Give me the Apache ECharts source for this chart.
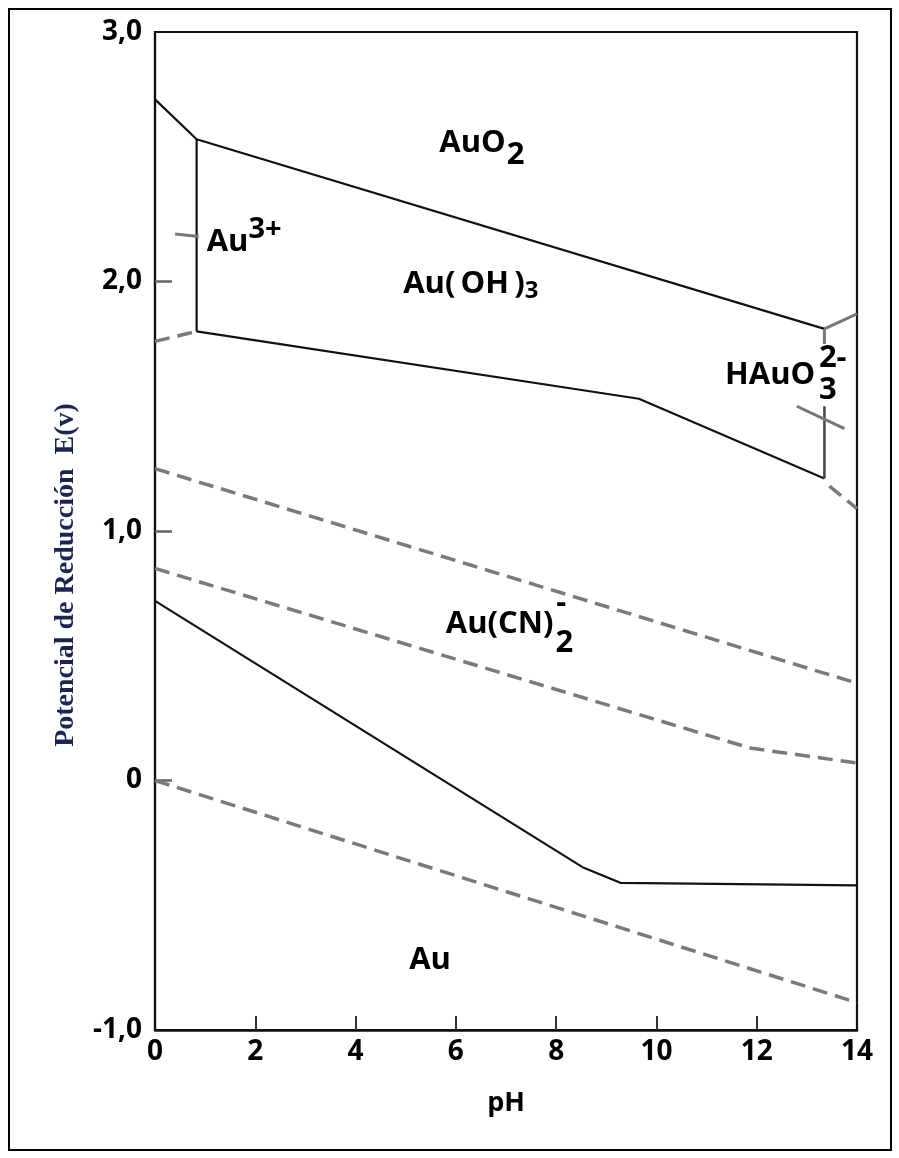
<!DOCTYPE html>
<html>
<head>
<meta charset="utf-8">
<script src="https://cdn.jsdelivr.net/npm/echarts@6/dist/echarts.min.js"></script>
<style>
html,body{margin:0;padding:0;background:#fff;}
#chart{width:899px;height:1158px;}
</style>
</head>
<body>
<div id="chart"></div>
<script>
// ---- Axis ticks ----
const xTicks = [0, 2, 4, 6, 8, 10, 12, 14];
const xTickMarks = [2, 4, 6, 8, 10, 12];
const yTickMarks = [0, 1, 2];
const yTickLabels = { '-1': '-1,0', '0': '0', '1': '1,0', '2': '2,0', '3': '3,0' };

// ---- Solid boundaries [pH, E(V)] ----
const auO2Upper = [[0, 2.73], [0.83, 2.57], [13.35, 1.81]];
const au3Vertical = [[0.83, 2.57], [0.83, 1.80]];
const auOH3Lower = [[0.83, 1.80], [9.65, 1.53], [13.35, 1.21]];
const hauo3VerticalLow = [[13.35, 1.21], [13.35, 1.50]];
const hauo3VerticalTop = [[13.35, 1.81], [13.35, 1.75]];
const hauo3Upper = [[13.35, 1.81], [14, 1.87]];
const auCNLower = [[0, 0.72], [8.55, -0.35], [9.28, -0.41], [14, -0.42]];

// ---- Dashed lines ----
const o2Line = [[0, 1.25], [14, 0.39]];
const cnLine = [[0, 0.85], [11.87, 0.13], [14, 0.07]];
const h2Line = [[0, 0], [14, -0.89]];
const au3DashLow = [[0, 1.76], [0.83, 1.80]];
const au3DashHigh = [[0.4, 2.19], [0.87, 2.18]];
const hauo3DashMid = [[12.8, 1.50], [13.75, 1.41]];
const hauo3DashLow = [[13.45, 1.18], [14, 1.09]];

// ---- Region labels: [pH, E, rich text] ----
const regionLabels = [
  [5.67, 2.556, '{m|AuO}{sub|2}'],
  [1.03, 2.156, '{m|Au}{sup|3+}'],
  [4.95, 1.99, '{m|Au(\u2009OH\u2009)}{subs|3}'],
  [11.37, 1.624, '{m|HAuO}'],
  [13.24, 1.565, '{m|3}'],
  [13.24, 1.692, '{m|2-}'],
  [5.8, 0.628, '{m|Au(CN)}{sub2|2}'],
  [8.0, 0.71, '{m|-}'],
  [5.07, -0.72, '{m|Au}']
];

const solidStyle = { color: '#111', width: 2.2, type: 'solid' };
const dashStyle = { color: '#7a7a7a', width: 3.5, type: [15, 8] };
const graySolid = { color: '#777', width: 3, type: 'solid' };

function lineSeries(data, style) {
  return { type: 'line', data: data, showSymbol: false, symbol: 'none', silent: true,
           lineStyle: style, z: 3, animation: false };
}

const labelFont = '"Open Sans", sans-serif';
const rich = {
  m: { fontFamily: labelFont, fontWeight: 'bold', fontSize: 31, color: '#000' },
  sub: { fontFamily: labelFont, fontWeight: 'bold', fontSize: 31, color: '#000', padding: [24, 0, 0, 1] },
  sub2: { fontFamily: labelFont, fontWeight: 'bold', fontSize: 31, color: '#000', padding: [38, 0, 0, 2] },
  subs: { fontFamily: labelFont, fontWeight: 'bold', fontSize: 24, color: '#000', padding: [14, 0, 0, 0] },
  sup: { fontFamily: labelFont, fontWeight: 'bold', fontSize: 29, color: '#000', padding: [0, 0, 26, 0] }
};

const chart = echarts.init(document.getElementById('chart'), null, { renderer: 'canvas' });
chart.setOption({
  animation: false,
  backgroundColor: '#fff',
  grid: { left: 155, top: 32, right: 42, bottom: 128, show: true, borderColor: '#111', borderWidth: 2.2, backgroundColor: 'transparent' },
  xAxis: {
    type: 'value', min: 0, max: 14, interval: 2,
    name: 'pH', nameLocation: 'middle', nameGap: 60,
    nameTextStyle: { fontFamily: labelFont, fontWeight: 'bold', fontSize: 27, color: '#000' },
    axisLine: { onZero: false, lineStyle: { color: '#111', width: 2.5 } },
    axisTick: { inside: true, length: 14, customValues: xTickMarks, lineStyle: { color: '#333', width: 2 } },
    axisLabel: { fontFamily: labelFont, fontWeight: 'bold', fontSize: 28, color: '#000', margin: 8,
                 formatter: v => xTicks.includes(v) ? String(v) : '' },
    splitLine: { show: false }
  },
  yAxis: {
    type: 'value', min: -1, max: 3, interval: 1,
    axisLine: { show: true, onZero: false, lineStyle: { color: '#111', width: 2.2 } },
    axisTick: { show: true, inside: true, length: 17, customValues: yTickMarks, lineStyle: { color: '#666', width: 2.5 } },
    axisLabel: { fontFamily: labelFont, fontWeight: 'bold', fontSize: 28, color: '#000', margin: 13,
                 formatter: v => yTickLabels[String(v)] || '' },
    splitLine: { show: false }
  },
  graphic: [
    { type: 'rect', shape: { x: 9, y: 9, width: 882, height: 1141 }, style: { fill: 'none', stroke: '#000', lineWidth: 2 }, z: 0 },
    { type: 'text', x: 66, y: 575, rotation: Math.PI / 2,
      style: { text: 'Potencial de Reducción  E(v)', font: 'bold 28px "Liberation Serif", serif', fill: '#1c2452',
               align: 'center', verticalAlign: 'middle' } }
  ],
  series: [
    lineSeries(auO2Upper, solidStyle),
    lineSeries(au3Vertical, solidStyle),
    lineSeries(auOH3Lower, solidStyle),
    lineSeries(hauo3VerticalLow, { color: '#444', width: 2.5 }),
    lineSeries(hauo3VerticalTop, graySolid),
    lineSeries(hauo3Upper, graySolid),
    lineSeries(auCNLower, solidStyle),
    lineSeries(o2Line, dashStyle),
    lineSeries(cnLine, dashStyle),
    lineSeries(h2Line, dashStyle),
    lineSeries(au3DashLow, dashStyle),
    lineSeries(au3DashHigh, graySolid),
    lineSeries(hauo3DashMid, graySolid),
    lineSeries(hauo3DashLow, dashStyle),
    {
      type: 'scatter', symbolSize: 0, silent: true, z: 5,
      itemStyle: { opacity: 1 },
      data: regionLabels.map(d => ({ value: [d[0], d[1]], label: { formatter: d[2] } })),
      label: { show: true, opacity: 1, position: [0, 0], align: 'left', verticalAlign: 'middle', color: '#000', rich: rich }
    }
  ]
});
</script>
</body>
</html>
